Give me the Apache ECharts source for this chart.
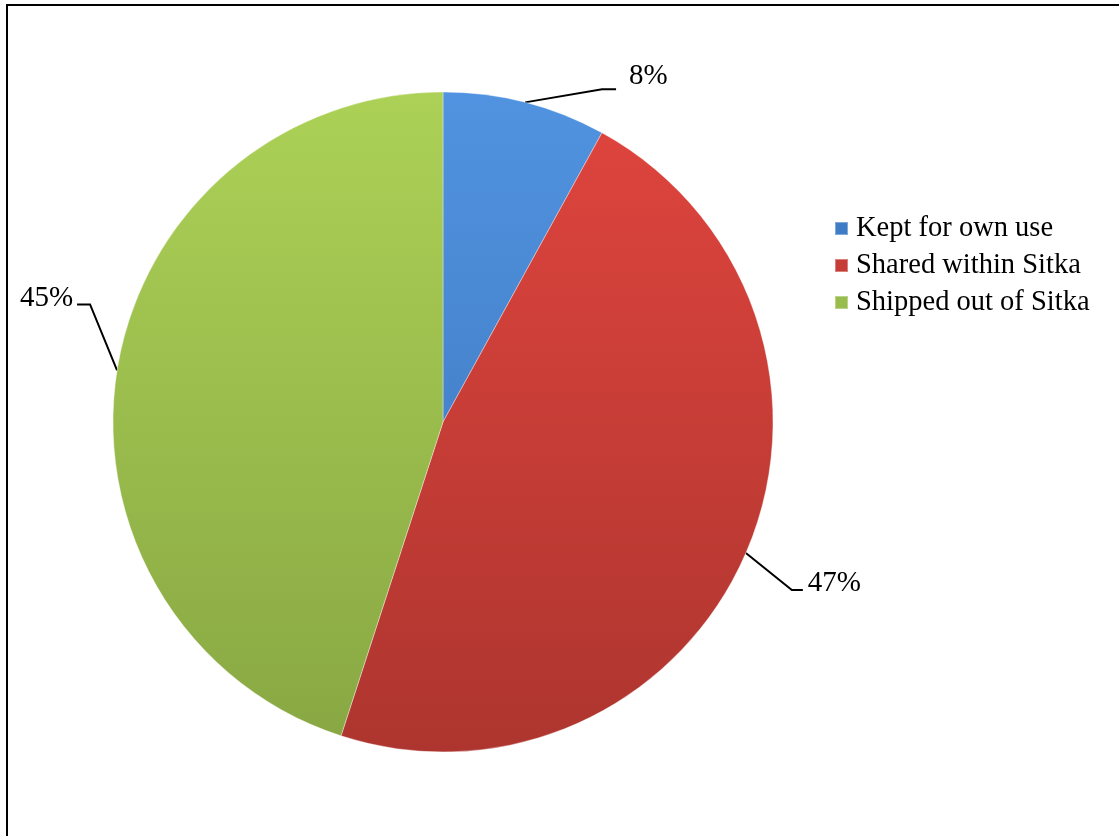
<html>
<head>
<meta charset="utf-8">
<script src="https://cdn.jsdelivr.net/npm/echarts@6/dist/echarts.min.js"></script>
<style>
  html, body { margin: 0; padding: 0; background: #fff; }
  #main { width: 1119px; height: 836px; }
</style>
</head>
<body>
<div id="main"></div>
<script>
var categories = ['Kept for own use', 'Shared within Sitka', 'Shipped out of Sitka'];
var shares = [8, 47, 45];
var labelTexts = ['8%', '47%', '45%'];

// top / bottom tones for each slice
var topColors = ['#5193e0', '#e0453e', '#acd156'];
var bottomColors = ['#3a72b8', '#ae352f', '#88a743'];
var legendColors = ['#3f7cc6', '#c63d38', '#98bd4c'];

// label leader offsets from the slice edge anchor: [bend, end, text]
var leaderOffsets = [
    [[77, -13], [91, -13], [104, -26]],
    [[46, 37], [57, 37], [62, 30]],
    [[-27, -66], [-40, -66], [-44, -72]]
];

var chart = echarts.init(document.getElementById('main'));

function grad(i) {
    return new echarts.graphic.LinearGradient(0, 92, 0, 752, [
        { offset: 0, color: topColors[i] },
        { offset: 1, color: bottomColors[i] }
    ], true);
}

chart.setOption({
    animation: false,
    backgroundColor: '#fff',
    graphic: [{
        type: 'rect',
        shape: { x: 7, y: 5, width: 1200, height: 900 },
        style: { fill: 'none', stroke: '#000', lineWidth: 2 }
    }],
    legend: {
        orient: 'vertical',
        left: 829,
        top: 209,
        itemWidth: 13,
        itemHeight: 13,
        itemGap: 8,
        textStyle: {
            fontFamily: 'Liberation Serif',
            fontSize: 28.5,
            lineHeight: 29,
            color: '#000',
            padding: [0, 0, 0, 3]
        },
        data: categories.map(function (c, i) {
            return { name: c, icon: 'rect', itemStyle: { color: legendColors[i] } };
        })
    },
    series: [{
        type: 'pie',
        center: [443, 422],
        radius: 330,
        startAngle: 90,
        clockwise: true,
        data: categories.map(function (c, i) {
            return { name: c, value: shares[i], itemStyle: { color: grad(i) } };
        }),
        itemStyle: { borderColor: 'rgba(255,255,255,0.35)', borderWidth: 1 },
        label: {
            show: true,
            position: 'outside',
            formatter: function (p) { return labelTexts[p.dataIndex]; },
            fontFamily: 'Liberation Serif',
            fontSize: 29,
            color: '#000'
        },
        labelLine: {
            show: true,
            length: 20,
            length2: 10,
            lineStyle: { color: '#000', width: 2 }
        },
        labelLayout: function (params) {
            var a = params.labelLinePoints[0];
            var o = leaderOffsets[params.dataIndex];
            var left = o[2][0] > 0;
            return {
                x: a[0] + o[2][0],
                y: a[1] + o[2][1],
                align: left ? 'left' : 'right',
                verticalAlign: 'middle',
                labelLinePoints: [
                    [a[0], a[1]],
                    [a[0] + o[0][0], a[1] + o[0][1]],
                    [a[0] + o[1][0], a[1] + o[1][1]]
                ]
            };
        },
        emphasis: { disabled: true }
    }]
});
</script>
</body>
</html>
